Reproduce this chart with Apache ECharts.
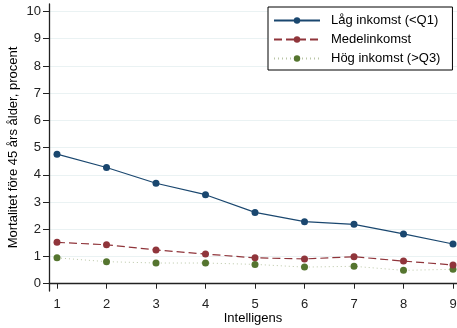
<!DOCTYPE html>
<html><head><meta charset="utf-8">
<script src="https://cdn.jsdelivr.net/npm/echarts@6/dist/echarts.min.js"></script>
<style>html,body{margin:0;padding:0;background:#fff}#c{width:457px;height:328px}</style>
</head><body><div id="c"></div>
<script>
const categories = [1, 2, 3, 4, 5, 6, 7, 8, 9];
const seriesNames = ['Låg inkomst (<Q1)', 'Medelinkomst', 'Hög inkomst (>Q3)'];
const lagInkomst = [4.76, 4.27, 3.69, 3.27, 2.62, 2.28, 2.18, 1.83, 1.46];
const medelInkomst = [1.52, 1.43, 1.24, 1.09, 0.95, 0.91, 0.99, 0.83, 0.69];
const hogInkomst = [0.95, 0.81, 0.76, 0.76, 0.71, 0.61, 0.64, 0.49, 0.53];
const yTicks = [0, 1, 2, 3, 4, 5, 6, 7, 8, 9, 10];
const xTicks = [1, 2, 3, 4, 5, 6, 7, 8, 9];
const yTitle = 'Mortalitet före 45 års ålder, procent';
const xTitle = 'Intelligens';

const font = '"Liberation Sans", Arial, sans-serif';
const colors = ['#1a476f', '#90353b', '#55752f'];
const lineTypes = ['solid', [8, 4], [1, 3]];
const values = [lagInkomst, medelInkomst, hogInkomst];

const chart = echarts.init(document.getElementById('c'), null, {renderer: 'canvas'});
const series = [{
  name: '__grid', type: 'line', data: [], silent: true, animation: false, z: 0,
  markLine: {
    symbol: 'none', silent: true, label: {show: false}, z: 0,
    lineStyle: {color: '#eaf2f3', width: 1, type: 'solid'},
    emphasis: {disabled: true},
    data: yTicks.map(t => ({yAxis: t}))
  }
}];
values.forEach((v, i) => series.push({
  name: seriesNames[i],
  type: 'line',
  data: categories.map((c, j) => [c, v[j]]),
  symbol: 'circle',
  symbolSize: 7,
  color: colors[i],
  lineStyle: {width: i === 2 ? 1 : 1.2, type: lineTypes[i], color: i === 2 ? '#b9c6a6' : colors[i]},
  itemStyle: {color: colors[i]},
  animation: false,
  z: 10 - i
}));

chart.setOption({
  animation: false,
  grid: {left: 49, right: 0, top: 4, bottom: 37, containLabel: false, outerBoundsMode: 'none'},
  legend: {
    data: seriesNames,
    orient: 'vertical', left: 268, top: 7, z: 50,
    padding: [7, 12, 5, 5],
    itemWidth: 46, itemHeight: 8, itemGap: 6,
    borderColor: '#000', borderWidth: 1, borderRadius: 0,
    backgroundColor: '#fff',
    textStyle: {fontFamily: font, fontSize: 13, color: '#000', padding: [0, 0, 0, 6]}
  },
  xAxis: {
    type: 'value', min: 1 - 8 / 49.5, max: 1 + 400 / 49.5,
    name: xTitle, nameLocation: 'middle', nameGap: 21, nameMoveOverlap: false,
    nameTextStyle: {fontFamily: font, fontSize: 13, color: '#000'},
    axisLine: {show: true, lineStyle: {color: '#222', width: 1.3}},
    axisTick: {show: true, customValues: xTicks, length: 5, lineStyle: {color: '#222'}},
    axisLabel: {customValues: xTicks, fontFamily: font, fontSize: 13, color: '#222', margin: 7},
    splitLine: {show: false}
  },
  yAxis: {
    type: 'value', min: -7.3 / 27.25, max: 10 + 7.5 / 27.25,
    name: yTitle, nameLocation: 'middle', nameGap: 29, nameRotate: 90, nameMoveOverlap: false,
    nameTextStyle: {fontFamily: font, fontSize: 13, color: '#000'},
    axisLine: {show: true, lineStyle: {color: '#222', width: 1.3}},
    axisTick: {show: true, customValues: yTicks, length: 6, lineStyle: {color: '#222'}},
    axisLabel: {customValues: yTicks, fontFamily: font, fontSize: 13, color: '#222', margin: 8},
    splitLine: {show: false}
  },
  series: series
});
</script></body></html>
